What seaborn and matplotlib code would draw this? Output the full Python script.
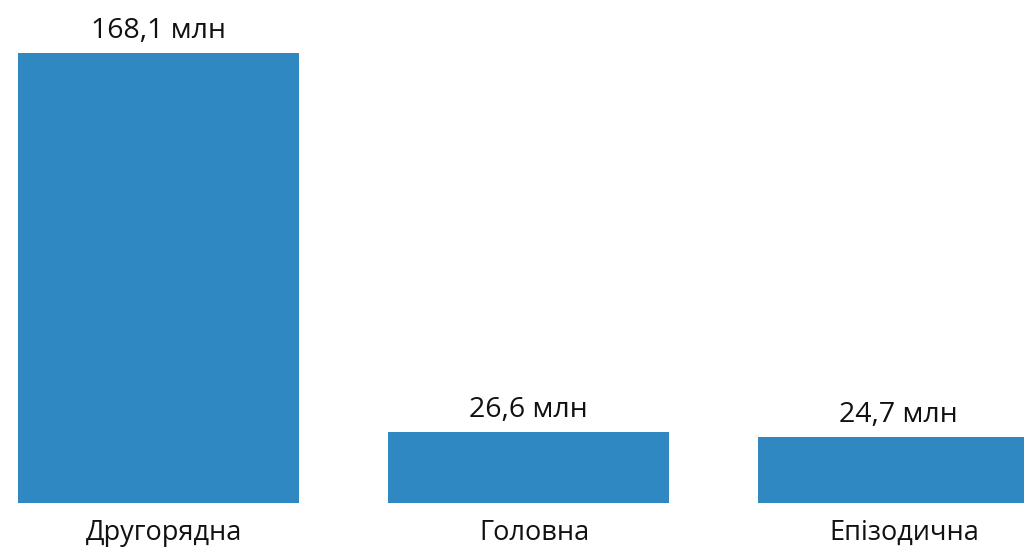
import matplotlib
matplotlib.use("Agg")
import matplotlib.pyplot as plt
import matplotlib.transforms as mtransforms
import seaborn as sns
import pandas as pd

categories = ["Другорядна", "Головна", "Епізодична"]
values = [168.1, 26.6, 24.7]
labels = ["168,1 млн", "26,6 млн", "24,7 млн"]

sns.set_style("white")
plt.rcParams['font.family'] = ['Open Sans', 'DejaVu Sans']

df = pd.DataFrame({"cat": categories, "val": values})
W, H = 1024, 549
fig = plt.figure(figsize=(W/100, H/100), dpi=100)
# axes spans x-range -0.5..2.5 ; category spacing 370 px, first center 158.5
left = (158.5 - 185) / W
width = 1110 / W
bottom = (H - 503) / H
height = 450 / H * (180 / 168.1)
ax = fig.add_axes([left, bottom, width, height])
sns.barplot(data=df, x="cat", y="val", color="#3088C3", saturation=1,
            width=281/370, linewidth=0, ax=ax)
ax.set_xlim(-0.5, 2.5)
ax.set_ylim(0, 180)
for i, (v, t) in enumerate(zip(values, labels)):
    ax.annotate(t, (i, v), xytext=(0, 10.5), textcoords="offset points",
                ha="center", va="baseline", fontsize=20.5, color="#111111")
ax.set_xlabel("")
ax.set_ylabel("")
ax.set_yticks([])
ax.tick_params(axis="x", length=0, labelsize=19.5, pad=11.5, colors="#111111")
shift = mtransforms.ScaledTranslation(6/100, 0, fig.dpi_scale_trans)
for lbl in ax.get_xticklabels():
    lbl.set_transform(lbl.get_transform() + shift)
sns.despine(ax=ax, left=True, bottom=True)
fig.savefig("out.png", dpi=100)
